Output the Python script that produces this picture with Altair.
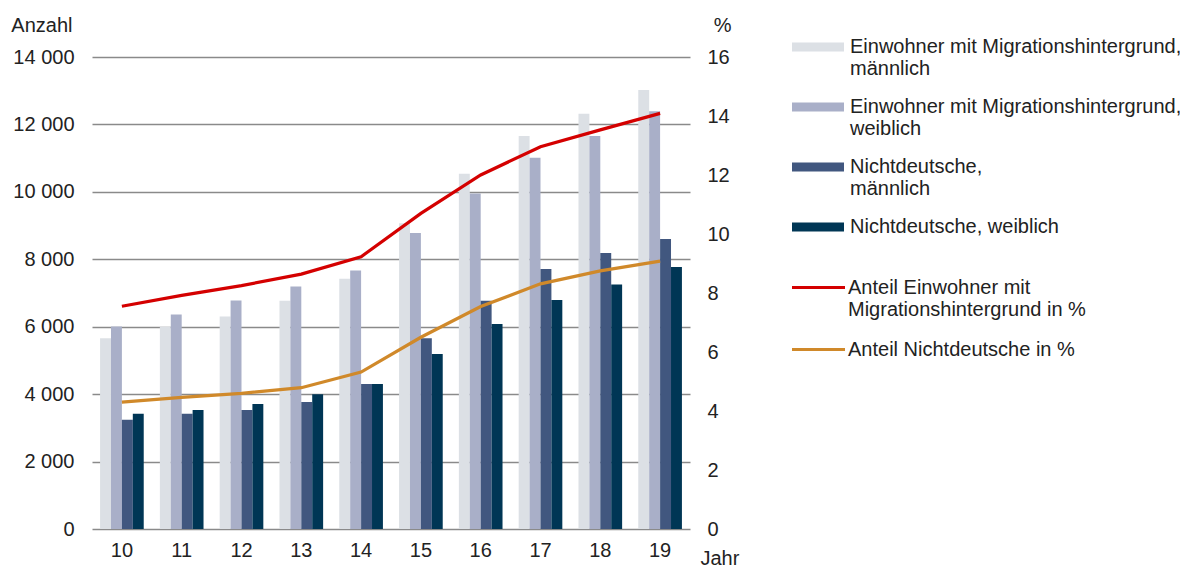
import altair as alt
import pandas as pd

years = ["10", "11", "12", "13", "14", "15", "16", "17", "18", "19"]

bar_series = [
    "Einwohner mit Migrationshintergrund,\nmännlich",
    "Einwohner mit Migrationshintergrund,\nweiblich",
    "Nichtdeutsche,\n männlich",
    "Nichtdeutsche, weiblich",
]
line_series = [
    "Anteil Einwohner mit\nMigrationshintergrund in %",
    "Anteil Nichtdeutsche in %",
]

mig_m = [5660, 6000, 6300, 6770, 7420, 9070, 10540, 11660, 12320, 13020]
mig_w = [6010, 6360, 6780, 7190, 7670, 8780, 9950, 11010, 11660, 12390]
nd_m = [3240, 3420, 3530, 3770, 4300, 5660, 6770, 7710, 8190, 8600]
nd_w = [3420, 3530, 3710, 4000, 4300, 5190, 6080, 6790, 7250, 7770]

share_mig = [7.55, 7.92, 8.25, 8.64, 9.23, 10.7, 12.0, 12.96, 13.53, 14.09]
share_nd = [4.30, 4.46, 4.60, 4.79, 5.32, 6.5, 7.54, 8.31, 8.75, 9.08]

bar_colors = ["#dce0e5", "#a9afc8", "#41577f", "#003655"]
line_colors = ["#d40000", "#d0892a"]

rows = []
for s, vals in zip(bar_series, [mig_m, mig_w, nd_m, nd_w]):
    for y, v in zip(years, vals):
        rows.append({"year": y, "series": s, "value": v})
bar_df = pd.DataFrame(rows)

rows = []
for s, vals in zip(line_series, [share_mig, share_nd]):
    for y, v in zip(years, vals):
        rows.append({"year": y, "series": s, "pct": v})
line_df = pd.DataFrame(rows)

FONT = "Liberation Sans"
TXT = "#222222"
FS = 20

x_enc = alt.X(
    "year:N",
    sort=years,
    scale=alt.Scale(paddingInner=0.27, paddingOuter=0.135),
    axis=alt.Axis(
        title="Jahr",
        titleAngle=0,
        titleAlign="left",
        titleBaseline="middle",
        titleX=608,
        titleY=29,
        titleFontWeight="normal",
        titleFontSize=FS,
        titleColor=TXT,
        labelAngle=0,
        labelPadding=11,
        labelFontSize=FS,
        labelColor=TXT,
        domain=False,
        ticks=False,
        grid=False,
    ),
)

bars = alt.Chart(bar_df).mark_bar().encode(
    x=x_enc,
    xOffset=alt.XOffset("series:N", sort=bar_series, scale=alt.Scale(paddingInner=0, paddingOuter=0)),
    y=alt.Y(
        "value:Q",
        scale=alt.Scale(domain=[0, 14000], nice=False),
        axis=alt.Axis(
            values=[0, 2000, 4000, 6000, 8000, 10000, 12000, 14000],
            labelExpr="replace(format(datum.value, ','), ',', ' ')",
            title="Anzahl",
            titleAngle=0,
            titleAlign="right",
            titleBaseline="middle",
            titleX=-20,
            titleY=-32,
            titleFontWeight="normal",
            titleFontSize=FS,
            titleColor=TXT,
            labelFontSize=FS,
            labelColor=TXT,
            labelPadding=18,
            domain=False,
            ticks=False,
            grid=True,
            gridColor="#8a8a8a",
            gridWidth=1.6,
        ),
    ),
    color=alt.Color(
        "series:N",
        scale=alt.Scale(domain=bar_series, range=bar_colors),
        legend=alt.Legend(
            title=None,
            orient="none",
            legendX=700,
            legendY=-36,
            symbolType="M-1,-0.17H1V0.17H-1Z",
            symbolSize=2704,
            symbolStrokeWidth=0,
            labelExpr="split(datum.label, '\\n')",
            labelFontSize=FS,
            labelColor=TXT,
            labelFont=FONT,
            labelLimit=500,
            labelOffset=6,
            rowPadding=2,
            padding=0,
        ),
    ),
)

lines = alt.Chart(line_df).mark_line(strokeWidth=3.2).encode(
    x=alt.X("year:N", sort=years),
    y=alt.Y(
        "pct:Q",
        scale=alt.Scale(domain=[0, 16], nice=False),
        axis=alt.Axis(
            orient="right",
            values=[0, 2, 4, 6, 8, 10, 12, 14, 16],
            title="%",
            titleAngle=0,
            titleAlign="right",
            titleBaseline="middle",
            titleX=41,
            titleY=-32,
            titleFontWeight="normal",
            titleFontSize=FS,
            titleColor=TXT,
            labelFontSize=FS,
            labelColor=TXT,
            labelPadding=17,
            domain=False,
            ticks=False,
            grid=False,
        ),
    ),
    stroke=alt.Stroke(
        "series:N",
        scale=alt.Scale(domain=line_series, range=line_colors),
        legend=alt.Legend(
            title=None,
            orient="none",
            legendX=698,
            legendY=202,
            symbolType="stroke",
            symbolSize=2809,
            symbolStrokeWidth=3.2,
            labelExpr="split(datum.label, '\\n')",
            labelFontSize=FS,
            labelColor=TXT,
            labelFont=FONT,
            labelLimit=500,
            labelOffset=1,
            rowPadding=1,
            padding=0,
        ),
    ),
)

chart = (
    alt.layer(bars, lines)
    .resolve_scale(y="independent", color="independent")
    .properties(
        width=598,
        height=472,
        padding={"left": 84, "top": 49, "right": 490, "bottom": 40},
        autosize=alt.AutoSizeParams(type="none"),
    )
    .configure(font=FONT)
    .configure_view(stroke=None)
)

chart.save("out.html", embed_options={"renderer": "svg", "actions": False})
